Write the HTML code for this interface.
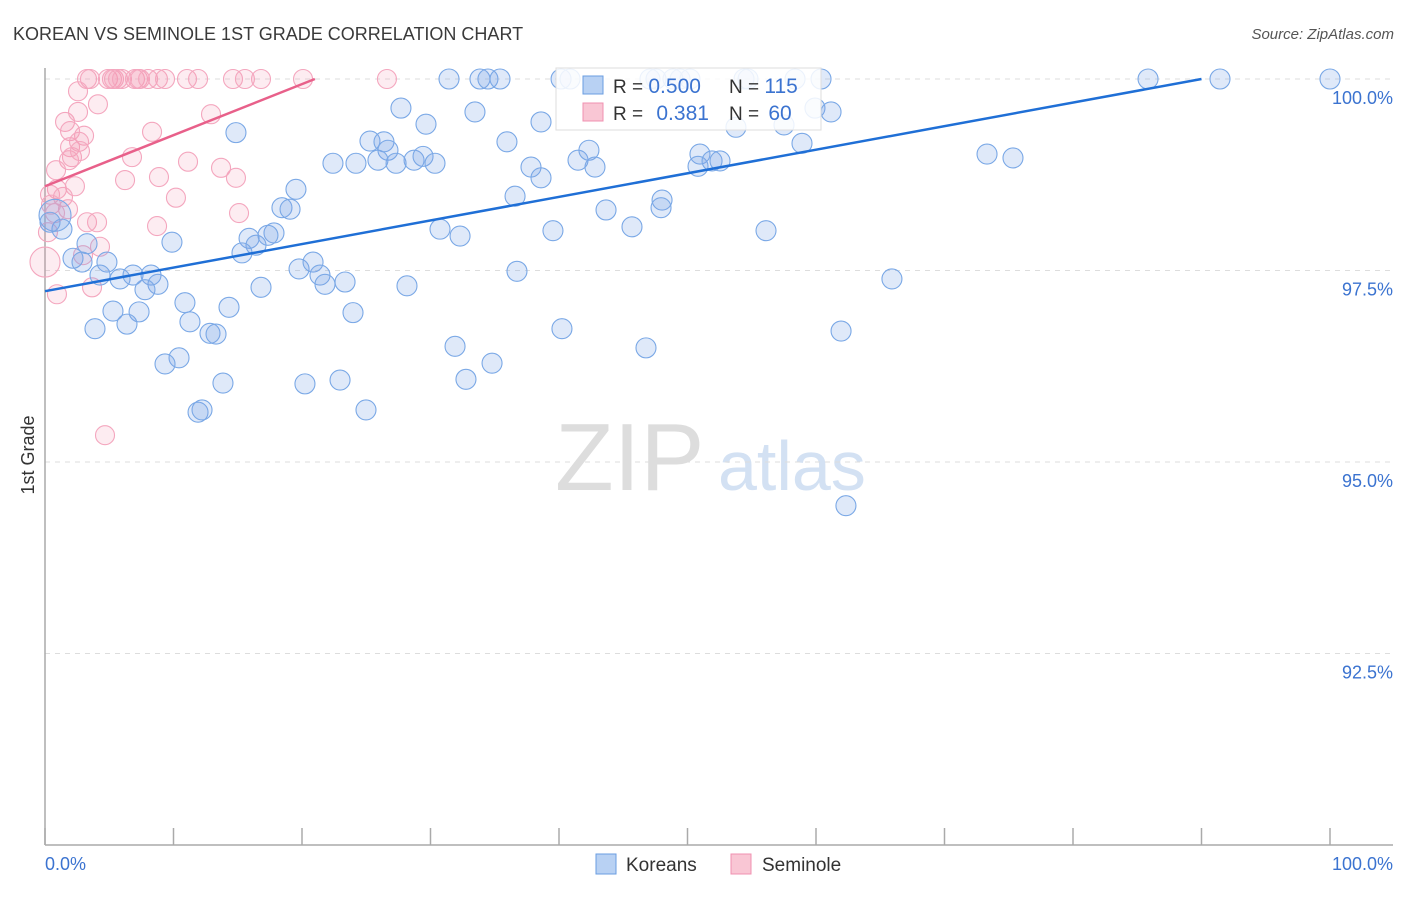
<!DOCTYPE html>
<html><head><meta charset="utf-8">
<style>
body{margin:0;background:#fff;font-family:"Liberation Sans",sans-serif;}
svg text{font-family:"Liberation Sans",sans-serif;}
</style></head>
<body>
<svg id="chart" width="1406" height="892" xmlns="http://www.w3.org/2000/svg">
<text x="13" y="40" font-size="18" fill="#3a3a3a">KOREAN VS SEMINOLE 1ST GRADE CORRELATION CHART</text>
<text x="1394" y="39" font-size="15" fill="#555" font-style="italic" text-anchor="end">Source: ZipAtlas.com</text>
<g>
<text x="555" y="490" font-size="96" fill="#ddd" font-family="Liberation Serif, serif">ZIP</text>
<text x="718" y="490" font-size="70" fill="#d3e1f3">atlas</text>
</g>
<g id="grid"></g>
<g id="axes"></g>
<g id="pink"></g>
<g id="blue"></g>
<g id="lines"></g>
<g>
<rect x="556" y="68" width="265" height="62" fill="#fff" fill-opacity="0.85" stroke="#ddd"/>
<rect x="583" y="76" width="20" height="18" fill="#b8d1f3" stroke="#6a9de0"/>
<rect x="583" y="103" width="20" height="18" fill="#f9c6d4" stroke="#f090b0"/>
<text x="613" y="93" font-size="19" fill="#333">R = <tspan fill="#3b73d0" font-size="21">0.500</tspan></text>
<text x="729" y="93" font-size="19" fill="#333">N = <tspan fill="#3b73d0" font-size="21">115</tspan></text>
<text x="613" y="120" font-size="19" fill="#333">R = <tspan fill="#3b73d0" font-size="21" dx="8">0.381</tspan></text>
<text x="729" y="120" font-size="19" fill="#333">N = <tspan fill="#3b73d0" font-size="21" dx="4">60</tspan></text>
</g>
<text transform="translate(34,455) rotate(-90)" font-size="18" fill="#333" text-anchor="middle">1st Grade</text>
<text x="45" y="870" font-size="18" fill="#3b73d0">0.0%</text>
<text x="1393" y="870" font-size="18" fill="#3b73d0" text-anchor="end">100.0%</text>
<g>
<rect x="596" y="854" width="20" height="20" fill="#b8d1f3" stroke="#6a9de0"/>
<text x="626" y="871" font-size="19" fill="#333">Koreans</text>
<rect x="731" y="854" width="20" height="20" fill="#f9c6d4" stroke="#f090b0"/>
<text x="762" y="871" font-size="19" fill="#333">Seminole</text>
</g>
</svg>
<script>
const yTicks=[100,97.5,95,92.5];
const yTickLabels=["100.0%","97.5%","95.0%","92.5%"];
const xTicks=[0,10,20,30,40,50,60,70,80,90,100];
const blueX=[14.86,27.70,29.65,33.46,38.60,35.95,25.29,26.38,26.69,22.41,24.20,25.91,27.32,28.72,29.42,30.35,37.82,38.60,41.48,42.33,42.80,36.58,43.66,48.02,47.94,45.68,39.53,30.74,32.30,19.53,18.44,19.07,15.88,16.42,17.82,17.35,15.33,9.88,3.27,2.18,2.88,4.82,4.28,5.84,6.85,8.25,8.79,7.78,16.81,19.77,20.86,21.40,21.79,23.35,28.17,36.73,10.89,14.32,5.29,7.32,11.28,3.89,6.38,12.84,13.31,23.97,40.23,31.91,34.79,32.76,10.43,9.34,13.85,20.23,22.96,24.98,11.91,12.22,46.77,61.95,65.91,56.11,58.91,50.97,50.82,51.91,52.53,53.77,57.51,59.92,61.17,73.31,75.33,85.84,91.44,100,62.33,1.32,0.78,0.39,31.44,33.85,34.47,35.41,40.16,40.86,47.08,47.55,48.87,49.42,50.19,54.40,54.71,58.37,60.39];
const blueY=[99.30,99.62,99.41,99.57,99.44,99.18,99.19,99.18,99.07,98.90,98.90,98.94,98.90,98.94,98.99,98.90,98.85,98.71,98.94,99.07,98.85,98.47,98.29,98.42,98.32,98.07,98.02,98.04,97.95,98.56,98.32,98.30,97.92,97.83,97.99,97.96,97.73,97.87,97.85,97.66,97.61,97.61,97.44,97.39,97.44,97.44,97.32,97.25,97.28,97.52,97.61,97.44,97.32,97.35,97.30,97.49,97.08,97.02,96.97,96.96,96.83,96.74,96.80,96.68,96.67,96.95,96.74,96.51,96.29,96.08,96.36,96.28,96.03,96.02,96.07,95.68,95.65,95.68,96.49,96.71,97.39,98.02,99.16,99.02,98.86,98.93,98.93,99.37,99.40,99.62,99.57,99.02,98.97,100,100,100,94.43,98.04,98.22,98.13,100,100,100,100,100,100,100,100,100,100,100,100,100,100,100];
const pinkX=[3.27,3.50,4.90,5.21,5.37,5.68,5.99,7.00,7.24,7.39,8.02,8.79,9.34,11.05,11.91,14.63,15.56,16.81,20.08,26.61,2.57,4.12,1.56,2.57,3.04,1.95,1.95,2.65,2.10,1.87,2.72,12.92,8.33,0.86,6.77,6.23,11.13,13.70,14.86,8.87,10.19,0.93,2.33,0.39,1.40,1.79,3.27,4.05,0.23,15.10,8.72,4.28,2.96,0,3.66,0.93,4.67,0.47,0.78];
const pinkY=[100,100,100,100,100,100,100,100,100,100,100,100,100,100,100,100,100,100,100,100,99.84,99.67,99.44,99.57,99.26,99.32,99.11,99.18,98.98,98.94,99.06,99.54,99.31,98.81,98.98,98.68,98.92,98.84,98.71,98.72,98.45,98.56,98.60,98.49,98.46,98.30,98.13,98.13,98.00,98.25,98.08,97.81,97.70,97.61,97.28,97.19,95.35,98.36,98.25];
const blueTrend=[[0,97.23],[90,100]];
const pinkTrend=[[0,98.60],[21,100]];
const NS="http://www.w3.org/2000/svg";
const xs=v=>45+v*12.85;
const ys=v=>79+(100-v)*76.6;
function mk(tag,attrs,parent){const e=document.createElementNS(NS,tag);for(const k in attrs)e.setAttribute(k,attrs[k]);parent.appendChild(e);return e;}
const grid=document.getElementById('grid'),axes=document.getElementById('axes');
yTicks.forEach((t,i)=>{
 const l=mk('line',{x1:45,x2:1393,y1:ys(t),y2:ys(t),stroke:'#ddd','stroke-dasharray':'5,5'},grid);
 
 
 const tx=mk('text',{x:1393,y:ys(t)+25,'font-size':18,fill:'#3b73d0','text-anchor':'end'},axes);
 tx.textContent=yTickLabels[i];
 
 
});
const ya=mk('line',{x1:45,x2:45,y1:68,y2:845,stroke:'#aaa','stroke-width':1.5},axes);


const xa=mk('line',{x1:45,x2:1393,y1:845,y2:845,stroke:'#aaa','stroke-width':1.5},axes);


xTicks.forEach(t=>{
 const l=mk('line',{x1:xs(t),x2:xs(t),y1:828,y2:845,stroke:'#aaa','stroke-width':1.5},axes);
 
 
});
const pg=document.getElementById('pink'),bg=document.getElementById('blue');
pinkX.forEach((x,i)=>{
 const big=(x===0&&pinkY[i]===97.61);
 const c=mk('circle',{cx:xs(x),cy:ys(pinkY[i]),r:big?15:9.5,fill:'rgba(244,150,178,0.18)',stroke:'#f4a6be','stroke-width':1.1},pg);
 
 
});
blueX.forEach((x,i)=>{
 const big=(x===0.78&&blueY[i]===98.22);
 const c=mk('circle',{cx:xs(x),cy:ys(blueY[i]),r:big?16:10,fill:'rgba(120,165,230,0.24)',stroke:'#7aa8e6','stroke-width':1.1},bg);
 
 
});
const lg=document.getElementById('lines');
const bl=mk('line',{x1:xs(blueTrend[0][0]),y1:ys(blueTrend[0][1]),x2:xs(blueTrend[1][0]),y2:ys(blueTrend[1][1]),stroke:'#1f6fd6','stroke-width':2.5},lg);


const pl=mk('line',{x1:xs(pinkTrend[0][0]),y1:ys(pinkTrend[0][1]),x2:xs(pinkTrend[1][0]),y2:ys(pinkTrend[1][1]),stroke:'#e8608a','stroke-width':2.5},lg);


</script>
</body></html>
